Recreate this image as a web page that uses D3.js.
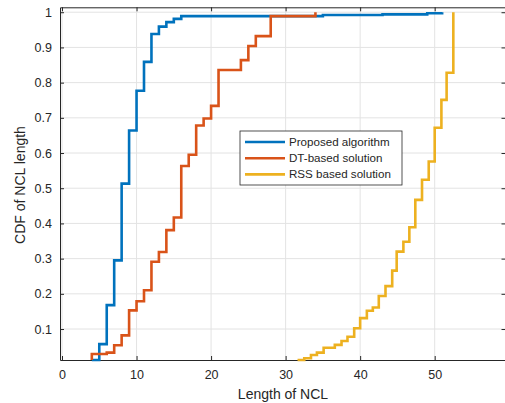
<!DOCTYPE html>
<html>
<head>
<meta charset="utf-8">
<script src="https://cdn.jsdelivr.net/npm/d3@7"></script>
<style>
body { margin: 0; background: #fff; }
svg { display: block; font-family: "Liberation Sans", Arial, sans-serif; }
</style>
</head>
<body>
<svg id="chart"></svg>
<script>
// series data (NCL length, CDF value)
var proposedX = [4, 5, 6, 7, 8, 9, 10, 11, 12, 13, 14, 15, 16, 35, 43, 49, 51];
var proposedY = [0.012, 0.057, 0.168, 0.295, 0.513, 0.664, 0.777, 0.859, 0.938, 0.959, 0.972, 0.981, 0.989, 0.992, 0.994, 0.997, 1];

var dtX = [4, 4, 6, 7, 8, 9, 10, 11, 12, 13, 14, 15, 16, 17, 18, 19, 20, 21, 24, 25, 26, 28, 34];
var dtY = [0.012, 0.029, 0.033, 0.054, 0.082, 0.153, 0.179, 0.210, 0.291, 0.319, 0.381, 0.417, 0.563, 0.595, 0.678, 0.698, 0.734, 0.836, 0.864, 0.904, 0.932, 0.989, 1];

var rssX = [31.6, 32.5, 33.4, 34.2, 35.1, 36.6, 37.5, 38.3, 39.2, 40.0, 40.9, 41.7, 42.5, 43.4, 44.3, 44.9, 45.8, 46.6, 47.4, 48.3, 49.2, 50.0, 50.9, 51.6, 52.5];
var rssY = [0.012, 0.017, 0.026, 0.033, 0.047, 0.055, 0.066, 0.078, 0.102, 0.131, 0.152, 0.161, 0.194, 0.222, 0.266, 0.320, 0.348, 0.389, 0.467, 0.524, 0.576, 0.672, 0.751, 0.828, 1];

var seriesNames = ["Proposed algorithm", "DT-based solution", "RSS based solution"];
var seriesColors = ["#0072BD", "#D95319", "#EDB120"];

var xTicks = [0, 10, 20, 30, 40, 50];
var yTicks = [0.1, 0.2, 0.3, 0.4, 0.5, 0.6, 0.7, 0.8, 0.9, 1];

var width = 505;
var height = 403;
// plot box (note: "top" is reserved on window, so use other names)
var boxL = 60, boxR = 505.5, boxT = 7.3, boxB = 360;
var ink = "#262626";

var svg = d3.select("#chart")
	.attr("width", width)
	.attr("height", height);

var xScale = d3.scaleLinear()
	.domain([-0.27, 59.5])
	.range([boxL, boxR]);

var yScale = d3.scaleLinear()
	.domain([0.012, 1.014])
	.range([boxB, boxT]);

// grid
svg.append("g").selectAll("line")
	.data(xTicks)
	.enter()
	.append("line")
	.attr("x1", function(d) { return xScale(d); })
	.attr("x2", function(d) { return xScale(d); })
	.attr("y1", boxT)
	.attr("y2", boxB)
	.attr("stroke", "#e3e3e3")
	.attr("stroke-width", 1);

svg.append("g").selectAll("line")
	.data(yTicks)
	.enter()
	.append("line")
	.attr("x1", boxL)
	.attr("x2", boxR)
	.attr("y1", function(d) { return yScale(d); })
	.attr("y2", function(d) { return yScale(d); })
	.attr("stroke", "#e3e3e3")
	.attr("stroke-width", 1);

// axes, ticks pointing inward like matlab
function styleAxis(g) {
	g.select(".domain").attr("stroke", ink);
	g.selectAll(".tick line").attr("stroke", ink);
	g.selectAll(".tick text")
		.attr("fill", ink)
		.style("font-size", "12.5px")
		.style("font-family", "'Liberation Sans', Arial, sans-serif");
}

svg.append("g")
	.attr("transform", "translate(0," + boxB + ")")
	.call(d3.axisBottom(xScale).tickValues(xTicks).tickSize(-4).tickPadding(10).tickSizeOuter(0))
	.call(styleAxis);

svg.append("g")
	.attr("transform", "translate(0," + boxT + ")")
	.call(d3.axisTop(xScale).tickValues(xTicks).tickSize(-4).tickFormat("").tickSizeOuter(0))
	.call(styleAxis);

svg.append("g")
	.attr("transform", "translate(" + boxL + ",0)")
	.call(d3.axisLeft(yScale).tickValues(yTicks).tickSize(-4).tickPadding(8).tickSizeOuter(0)
		.tickFormat(function(d) { return d3.format("~g")(d); }))
	.call(styleAxis);

svg.append("g")
	.attr("transform", "translate(" + boxR + ",0)")
	.call(d3.axisRight(yScale).tickValues(yTicks).tickSize(-4).tickFormat("").tickSizeOuter(0))
	.call(styleAxis);

// CDF stairs
var series = [
	{ x: proposedX, y: proposedY },
	{ x: dtX, y: dtY },
	{ x: rssX, y: rssY }
];

var stairs = d3.line()
	.x(function(d) { return xScale(d[0]); })
	.y(function(d) { return yScale(d[1]); })
	.curve(d3.curveStepAfter);

svg.append("g").selectAll("path")
	.data(series)
	.enter()
	.append("path")
	.attr("d", function(s) { return stairs(d3.zip(s.x, s.y)); })
	.attr("fill", "none")
	.attr("stroke", function(s, i) { return seriesColors[i]; })
	.attr("stroke-width", 2.6)
	.attr("stroke-linejoin", "miter");

// legend
var legend = svg.append("g").attr("transform", "translate(240,131)");

legend.append("rect")
	.attr("width", 162)
	.attr("height", 54)
	.attr("fill", "#fff")
	.attr("stroke", ink)
	.attr("stroke-width", 0.8);

var rows = legend.selectAll(".row")
	.data(seriesNames)
	.enter()
	.append("g")
	.attr("transform", function(d, i) { return "translate(0," + (11 + i * 16.2) + ")"; });

rows.append("line")
	.attr("x1", 5)
	.attr("x2", 45)
	.attr("stroke", function(d, i) { return seriesColors[i]; })
	.attr("stroke-width", 2.6);

rows.append("text")
	.attr("x", 49)
	.attr("dy", "0.35em")
	.attr("fill", ink)
	.style("font-size", "11.6px")
	.text(function(d) { return d; });

// axis labels
svg.append("text")
	.attr("x", 283)
	.attr("y", 399)
	.attr("text-anchor", "middle")
	.attr("fill", ink)
	.style("font-size", "14px")
	.text("Length of NCL");

svg.append("text")
	.attr("transform", "translate(25,185)rotate(-90)")
	.attr("text-anchor", "middle")
	.attr("fill", ink)
	.style("font-size", "14px")
	.text("CDF of NCL length");
</script>
</body>
</html>
